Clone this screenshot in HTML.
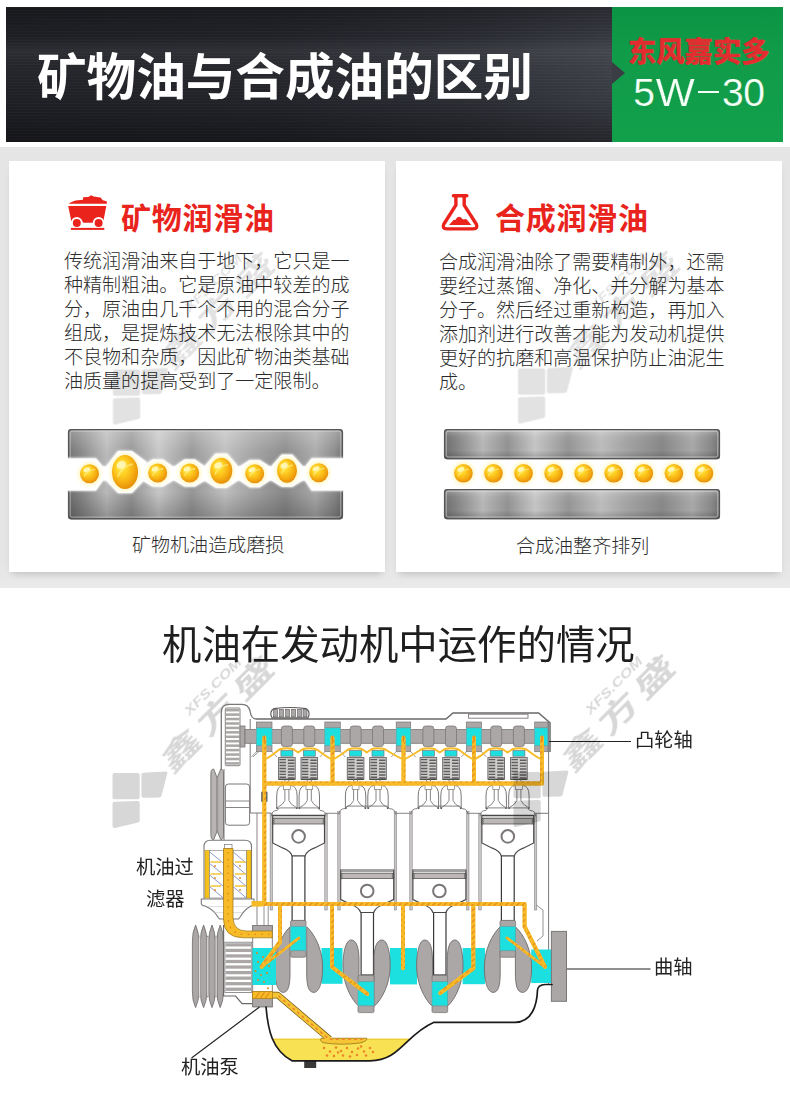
<!DOCTYPE html>
<html lang="zh-CN">
<head>
<meta charset="utf-8">
<title>矿物油与合成油的区别 - 东风嘉实多 5W-30</title>
<style>
html,body{margin:0;padding:0;background:#fff;}
body{font-family:"Liberation Sans",sans-serif;}
#page{position:relative;width:790px;height:1094px;overflow:hidden;background:#fff;}
.t{position:absolute;display:block;overflow:visible;}
.t text,.cjk{font-family:"Liberation Sans","Noto Sans CJK SC",sans-serif;}
.abs{position:absolute;display:block;}
/* header banner */
#banner{position:absolute;left:6px;top:7px;width:777px;height:134.5px;
  background:
   repeating-linear-gradient(180deg,rgba(255,255,255,.018) 0,rgba(255,255,255,.018) 1px,rgba(0,0,0,.025) 1px,rgba(0,0,0,.025) 3px),
   linear-gradient(180deg,rgba(0,0,0,.3) 0%,rgba(0,0,0,.08) 22%,rgba(255,255,255,.055) 33%,rgba(255,255,255,.02) 45%,rgba(0,0,0,.05) 70%,rgba(0,0,0,.38) 100%),
   linear-gradient(90deg,#212228 0%,#24262c 35%,#2e3037 60%,#3c3e46 78%);}
#badge{position:absolute;left:612px;top:7px;width:171px;height:134.5px;background:linear-gradient(180deg,#0b9443 0%,#109b48 30%,#12a04b 100%);}
#badge:before{content:"";position:absolute;left:0;top:55px;border-left:13px solid #3b3d45;border-top:11px solid transparent;border-bottom:11px solid transparent;}
#grade{position:absolute;left:633.2px;top:70.5px;width:150px;height:44px;line-height:44px;color:#f4fff6;font-size:39px;letter-spacing:1.5px;white-space:nowrap;-webkit-text-stroke:.2px #10994a;}
#grade i{font-size:0;overflow:hidden;display:inline-block;width:21.4px;height:2.4px;background:#f4fff6;vertical-align:12.5px;margin:0 2.4px 0 1.4px;}
#grade b{font-weight:normal;letter-spacing:-.3px;}
#grade u{text-decoration:none;display:inline-block;transform:scaleX(1.06);transform-origin:50% 50%;margin:0 1px;}
.brand{stroke:#e32c2f;stroke-width:.74px;stroke-linejoin:round;}
h1,h2,p,figure,figcaption{margin:0;padding:0;font-size:0;line-height:0;font-weight:normal;}
/* compare band */
#band{position:absolute;left:0;top:147px;width:790px;height:441px;background:linear-gradient(180deg,#e5e5e5 0%,#e5e5e5 94%,#eaeaea 100%);}
.card{position:absolute;top:14px;height:411px;background:#fff;box-shadow:0 5px 7px -3px rgba(0,0,0,.17);}
#cardL{left:9px;width:376px;}
#cardR{left:396px;width:386px;}
</style>
</head>
<body>
<main id="page">
 <header>
  <div id="banner"></div>
  <div id="badge"></div>
  <h1><svg class="t " role="img" aria-label="矿物油与合成油的区别" style="left:33.4px;top:45.88px" width="504" height="64" viewBox="0 0 504 64" fill="#fff"><title>矿物油与合成油的区别</title><text x="4" y="49.12" font-size="49.6" font-weight="bold">矿物油与合成油的区别</text></svg></h1>
  <svg class="t brand" role="img" aria-label="东风嘉实多" style="left:624.3px;top:32.715px" width="150" height="38" viewBox="0 0 150 38" fill="#e32c2f"><title>东风嘉实多</title><text x="4" y="28.885" font-size="28.3" font-weight="bold">东风嘉实多</text></svg>
  <div id="grade" role="text" aria-label="5W-30">5<u>W</u><i>–</i><b>30</b></div>
 </header>
 <section id="band" aria-label="矿物油与合成油对比">
  <article id="cardL" class="card">
   <h2><svg class="abs" role="img" aria-label="矿车图标" style="left:51px;top:27px" width="56" height="48" viewBox="60 188 56 48"><title>矿车图标</title>
<path fill="#ea231c" d="M68.6 203.7 L71 202.2 L75.5 200.6 L83 199.8 L83.1 197.3 L88.4 197.1 L91 195.2 L93.7 196.4 L97 197 L100.5 197.5 L102.8 200.2 L106.6 201.3 L107.1 203.7 Z"/>
<path fill="#ea231c" d="M68.2 206 H106.3 L103.3 221.5 H94.5 L93 222.7 H83.5 L82 221.5 H71.4 Z"/>
<circle cx="76.8" cy="223" r="5.9" fill="#fff"/><circle cx="98.6" cy="223" r="5.9" fill="#fff"/>
<circle cx="76.8" cy="223" r="4" fill="#ea231c"/><circle cx="98.6" cy="223" r="4" fill="#ea231c"/>
<rect x="70.9" y="227.9" width="33.4" height="2" fill="#ea231c"/>
</svg><svg class="t " role="img" aria-label="矿物润滑油" style="left:108px;top:37px" width="162" height="40" viewBox="0 0 162 40" fill="#e9241d"><title>矿物润滑油</title><text x="4" y="30.5" font-size="30" font-weight="bold" letter-spacing="0.75">矿物润滑油</text></svg></h2>
   <p><svg class="t " role="img" aria-label="传统润滑油来自于地下，它只是一种精制粗油。它是原油中较差的成分，原油由几千个不用的混合分子组成，是提炼技术无法根除其中的不良物和杂质，因此矿物油类基础油质量的提高受到了一定限制。" style="left:51px;top:87.102px" width="294" height="147" viewBox="0 0 294 147" fill="#2b2b2b"><title>传统润滑油来自于地下，它只是一种精制粗油。它是原油中较差的成分，原油由几千个不用的混合分子组成，是提炼技术无法根除其中的不良物和杂质，因此矿物油类基础油质量的提高受到了一定限制。</title><g font-size="19.05" font-weight="300"><text x="4" y="20.0975">传统润滑油来自于地下，它只是一</text><text x="4" y="44.0975">种精制粗油。它是原油中较差的成</text><text x="4" y="68.0975">分，原油由几千个不用的混合分子</text><text x="4" y="92.0975">组成，是提炼技术无法根除其中的</text><text x="4" y="116.097">不良物和杂质，因此矿物油类基础</text><text x="4" y="140.097">油质量的提高受到了一定限制。</text></g></svg></p>
   <figure><svg class="abs" role="img" aria-label="矿物机油：油分子大小不一，金属表面磨损" style="left:47px;top:259px" width="300" height="110" viewBox="56 420 300 110"><title>矿物机油造成磨损示意图</title>
<defs><linearGradient id="mg" x1="0" x2="1" y1="0" y2="0"><stop offset="0" stop-color="#6e6e6e"/><stop offset="0.05" stop-color="#868686"/><stop offset="0.14" stop-color="#b8b8b8"/><stop offset="0.23" stop-color="#939393"/><stop offset="0.33" stop-color="#c6c6c6"/><stop offset="0.45" stop-color="#969696"/><stop offset="0.57" stop-color="#bebebe"/><stop offset="0.67" stop-color="#a2a2a2"/><stop offset="0.79" stop-color="#888888"/><stop offset="0.9" stop-color="#a9a9a9"/><stop offset="0.97" stop-color="#888888"/><stop offset="1" stop-color="#707070"/></linearGradient>
<linearGradient id="mv" x1="0" x2="0" y1="0" y2="1"><stop offset="0" stop-color="#fff" stop-opacity=".28"/><stop offset=".25" stop-color="#fff" stop-opacity=".05"/><stop offset=".7" stop-color="#000" stop-opacity="0"/><stop offset="1" stop-color="#000" stop-opacity=".22"/></linearGradient>
<radialGradient id="dg" cx=".45" cy=".42" r=".62" fx=".32" fy=".3"><stop offset="0" stop-color="#fff06a"/><stop offset=".35" stop-color="#ffd426"/><stop offset=".7" stop-color="#f6ae12"/><stop offset="1" stop-color="#e2880a"/></radialGradient>
<filter id="bl" x="-10%" y="-30%" width="120%" height="160%"><feGaussianBlur stdDeviation=".8"/></filter>
<filter id="gl" x="-30%" y="-30%" width="160%" height="160%"><feGaussianBlur stdDeviation="1.6"/></filter>
</defs>
<clipPath id="cpl"><rect x="68" y="429" width="275" height="90.29999999999995" rx="3"/></clipPath>
<rect x="68" y="429" width="275" height="90.29999999999995" rx="3" fill="url(#mg)"/>
<rect x="68" y="429" width="275" height="90.29999999999995" rx="3" fill="url(#mv)"/>
<rect x="68.6" y="429.6" width="273.8" height="89.09999999999995" rx="3" fill="none" stroke="#565656" stroke-width="1.4"/>
<rect x="70.2" y="431.2" width="270.6" height="85.89999999999995" rx="2" fill="none" stroke="#dcdcdc" stroke-width=".8" opacity=".7"/>
<g clip-path="url(#cpl)"><path d="M65 459 L95.5 459 L102.5 467.2 L106.4 467.2 L118.5 451.6 L131.5 451.6 L146 462.5 L142.6 467.2 L152.95 460.1 L162.45 460.1 L172.8 467.2 L174.6 467.2 L184.95 460.1 L194.45 460.1 L204.8 467.2 L204.7 467.2 L215.8 454.3 L226.8 454.3 L237.9 467.2 L239.6 467.2 L249.95 460.8 L259.45 460.8 L269.8 467.2 L271.4 467.2 L282 455.3 L292 455.3 L302.6 467.2 L305.5 467.2 L312 459 L346 459 L346 489.8 L312 489.8 L305.5 479.8 L302.6 479.8 L292 486.1 L282 486.1 L271.4 479.8 L269.8 479.8 L259.45 486.6 L249.95 486.6 L239.6 479.8 L237.9 479.8 L226.8 487.1 L215.8 487.1 L204.7 479.8 L204.8 479.8 L194.45 485.9 L184.95 485.9 L174.6 479.8 L172.8 479.8 L162.45 485.9 L152.95 485.9 L142.6 479.8 L143.6 479.8 L131.5 492.4 L118.5 492.4 L106.4 479.8 L102.5 479.8 L95.5 489.8 L65 489.8 Z" fill="#fff" stroke="#f4f4f4" stroke-width="2.4" stroke-linejoin="round" filter="url(#bl)"/></g>
<path d="M65 459 L95.5 459 L102.5 467.2 L106.4 467.2 L118.5 451.6 L131.5 451.6 L146 462.5 L142.6 467.2 L152.95 460.1 L162.45 460.1 L172.8 467.2 L174.6 467.2 L184.95 460.1 L194.45 460.1 L204.8 467.2 L204.7 467.2 L215.8 454.3 L226.8 454.3 L237.9 467.2 L239.6 467.2 L249.95 460.8 L259.45 460.8 L269.8 467.2 L271.4 467.2 L282 455.3 L292 455.3 L302.6 467.2 L305.5 467.2 L312 459 L346 459 L346 489.8 L312 489.8 L305.5 479.8 L302.6 479.8 L292 486.1 L282 486.1 L271.4 479.8 L269.8 479.8 L259.45 486.6 L249.95 486.6 L239.6 479.8 L237.9 479.8 L226.8 487.1 L215.8 487.1 L204.7 479.8 L204.8 479.8 L194.45 485.9 L184.95 485.9 L174.6 479.8 L172.8 479.8 L162.45 485.9 L152.95 485.9 L142.6 479.8 L143.6 479.8 L131.5 492.4 L118.5 492.4 L106.4 479.8 L102.5 479.8 L95.5 489.8 L65 489.8 Z" fill="#fff" stroke="#fff" stroke-width="1.2" stroke-linejoin="round"/>
<ellipse cx="89.5" cy="473.7" rx="11.7" ry="11.7" fill="#fff8c8" opacity=".9" filter="url(#gl)"/><ellipse cx="89.5" cy="473.7" rx="9.5" ry="9.5" fill="url(#dg)"/><path d="M84.275 476.075 Q87.6 470.375 94.725 469.425" fill="none" stroke="#fff6a0" stroke-width="1.33" opacity=".55" stroke-linecap="round"/><ellipse cx="86.84" cy="469.71" rx="3.61" ry="2.09" fill="#fffbd0" opacity=".75" transform="rotate(-25 86.84 469.71)"/><ellipse cx="125" cy="472" rx="15.2" ry="19.2" fill="#fff8c8" opacity=".9" filter="url(#gl)"/><ellipse cx="125" cy="472" rx="13" ry="17" fill="url(#dg)"/><path d="M117.85 476.25 Q122.4 466.05 132.15 464.35" fill="none" stroke="#fff6a0" stroke-width="1.82" opacity=".55" stroke-linecap="round"/><ellipse cx="121.36" cy="464.86" rx="4.94" ry="3.74" fill="#fffbd0" opacity=".75" transform="rotate(-25 121.36 464.86)"/><ellipse cx="157.7" cy="473" rx="11.7" ry="11.7" fill="#fff8c8" opacity=".9" filter="url(#gl)"/><ellipse cx="157.7" cy="473" rx="9.5" ry="9.5" fill="url(#dg)"/><path d="M152.475 475.375 Q155.8 469.675 162.925 468.725" fill="none" stroke="#fff6a0" stroke-width="1.33" opacity=".55" stroke-linecap="round"/><ellipse cx="155.04" cy="469.01" rx="3.61" ry="2.09" fill="#fffbd0" opacity=".75" transform="rotate(-25 155.04 469.01)"/><ellipse cx="189.7" cy="473" rx="11.7" ry="11.7" fill="#fff8c8" opacity=".9" filter="url(#gl)"/><ellipse cx="189.7" cy="473" rx="9.5" ry="9.5" fill="url(#dg)"/><path d="M184.475 475.375 Q187.8 469.675 194.925 468.725" fill="none" stroke="#fff6a0" stroke-width="1.33" opacity=".55" stroke-linecap="round"/><ellipse cx="187.04" cy="469.01" rx="3.61" ry="2.09" fill="#fffbd0" opacity=".75" transform="rotate(-25 187.04 469.01)"/><ellipse cx="221.3" cy="470.7" rx="13.2" ry="15.2" fill="#fff8c8" opacity=".9" filter="url(#gl)"/><ellipse cx="221.3" cy="470.7" rx="11" ry="13" fill="url(#dg)"/><path d="M215.25 473.95 Q219.1 466.15 227.35 464.85" fill="none" stroke="#fff6a0" stroke-width="1.54" opacity=".55" stroke-linecap="round"/><ellipse cx="218.22" cy="465.24" rx="4.18" ry="2.86" fill="#fffbd0" opacity=".75" transform="rotate(-25 218.22 465.24)"/><ellipse cx="254.7" cy="473.7" rx="11.7" ry="11.7" fill="#fff8c8" opacity=".9" filter="url(#gl)"/><ellipse cx="254.7" cy="473.7" rx="9.5" ry="9.5" fill="url(#dg)"/><path d="M249.475 476.075 Q252.8 470.375 259.925 469.425" fill="none" stroke="#fff6a0" stroke-width="1.33" opacity=".55" stroke-linecap="round"/><ellipse cx="252.04" cy="469.71" rx="3.61" ry="2.09" fill="#fffbd0" opacity=".75" transform="rotate(-25 252.04 469.71)"/><ellipse cx="287" cy="470.7" rx="12.2" ry="14.2" fill="#fff8c8" opacity=".9" filter="url(#gl)"/><ellipse cx="287" cy="470.7" rx="10" ry="12" fill="url(#dg)"/><path d="M281.5 473.7 Q285 466.5 292.5 465.3" fill="none" stroke="#fff6a0" stroke-width="1.4" opacity=".55" stroke-linecap="round"/><ellipse cx="284.2" cy="465.66" rx="3.8" ry="2.64" fill="#fffbd0" opacity=".75" transform="rotate(-25 284.2 465.66)"/><ellipse cx="318.8" cy="472.7" rx="11.7" ry="11.7" fill="#fff8c8" opacity=".9" filter="url(#gl)"/><ellipse cx="318.8" cy="472.7" rx="9.5" ry="9.5" fill="url(#dg)"/><path d="M313.575 475.075 Q316.9 469.375 324.025 468.425" fill="none" stroke="#fff6a0" stroke-width="1.33" opacity=".55" stroke-linecap="round"/><ellipse cx="316.14" cy="468.71" rx="3.61" ry="2.09" fill="#fffbd0" opacity=".75" transform="rotate(-25 316.14 468.71)"/>
</svg><figcaption><svg class="t " role="img" aria-label="矿物机油造成磨损" style="left:119px;top:370.903px" width="160" height="27" viewBox="0 0 160 27" fill="#2b2b2b"><title>矿物机油造成磨损</title><text x="4" y="20.0975" font-size="19.05" font-weight="300">矿物机油造成磨损</text></svg></figcaption></figure>
  </article>
  <article id="cardR" class="card">
   <h2><svg class="abs" role="img" aria-label="烧瓶图标" style="left:40px;top:27px" width="50" height="48" viewBox="436 188 50 48"><title>烧瓶图标</title>
<g fill="none" stroke="#ea231c" stroke-width="3.4" stroke-linecap="round" stroke-linejoin="round">
<path d="M453.4 195.8 H466.8"/>
<path d="M455.9 197 V205.2 L443.9 224 Q441.6 228.9 447 228.9 H473.1 Q478.5 228.9 476.2 224 L464.2 205.2 V197"/>
</g>
<path fill="#ea231c" d="M449 224.9 L453.6 220 L455.6 219.8 Q456.6 217.4 458.8 216.8 Q461.2 216.8 462.2 219 L464 219.6 Q465.6 218.4 467 219.8 L471.3 224.9 Z"/>
</svg><svg class="t " role="img" aria-label="合成润滑油" style="left:95px;top:37px" width="162" height="40" viewBox="0 0 162 40" fill="#e9241d"><title>合成润滑油</title><text x="4" y="30.5" font-size="30" font-weight="bold" letter-spacing="0.75">合成润滑油</text></svg></h2>
   <p><svg class="t " role="img" aria-label="合成润滑油除了需要精制外，还需要经过蒸馏、净化、并分解为基本分子。然后经过重新构造，再加入添加剂进行改善才能为发动机提供更好的抗磨和高温保护防止油泥生成。" style="left:39.2px;top:88.102px" width="294" height="147" viewBox="0 0 294 147" fill="#2b2b2b"><title>合成润滑油除了需要精制外，还需要经过蒸馏、净化、并分解为基本分子。然后经过重新构造，再加入添加剂进行改善才能为发动机提供更好的抗磨和高温保护防止油泥生成。</title><g font-size="19.05" font-weight="300"><text x="4" y="20.0975">合成润滑油除了需要精制外，还需</text><text x="4" y="44.0975">要经过蒸馏、净化、并分解为基本</text><text x="4" y="68.0975">分子。然后经过重新构造，再加入</text><text x="4" y="92.0975">添加剂进行改善才能为发动机提供</text><text x="4" y="116.097">更好的抗磨和高温保护防止油泥生</text><text x="4" y="140.097">成。</text></g></svg></p>
   <figure><svg class="abs" role="img" aria-label="合成油：油分子大小一致，整齐排列" style="left:36px;top:259px" width="300" height="110" viewBox="432 420 300 110"><title>合成油整齐排列示意图</title>
<defs><linearGradient id="mg2" x1="0" x2="1" y1="0" y2="0"><stop offset="0" stop-color="#6e6e6e"/><stop offset="0.05" stop-color="#868686"/><stop offset="0.14" stop-color="#b8b8b8"/><stop offset="0.23" stop-color="#939393"/><stop offset="0.33" stop-color="#c6c6c6"/><stop offset="0.45" stop-color="#969696"/><stop offset="0.57" stop-color="#bebebe"/><stop offset="0.67" stop-color="#a2a2a2"/><stop offset="0.79" stop-color="#888888"/><stop offset="0.9" stop-color="#a9a9a9"/><stop offset="0.97" stop-color="#888888"/><stop offset="1" stop-color="#707070"/></linearGradient>
<linearGradient id="mv2" x1="0" x2="0" y1="0" y2="1"><stop offset="0" stop-color="#fff" stop-opacity=".28"/><stop offset=".25" stop-color="#fff" stop-opacity=".05"/><stop offset=".7" stop-color="#000" stop-opacity="0"/><stop offset="1" stop-color="#000" stop-opacity=".22"/></linearGradient>
<radialGradient id="dg2" cx=".45" cy=".42" r=".62" fx=".32" fy=".3"><stop offset="0" stop-color="#fff06a"/><stop offset=".35" stop-color="#ffd426"/><stop offset=".7" stop-color="#f6ae12"/><stop offset="1" stop-color="#e2880a"/></radialGradient>
<filter id="bl2" x="-10%" y="-30%" width="120%" height="160%"><feGaussianBlur stdDeviation=".8"/></filter>
<filter id="gl2" x="-30%" y="-30%" width="160%" height="160%"><feGaussianBlur stdDeviation="1.6"/></filter>
</defs>
<rect x="444" y="429" width="276" height="30.19999999999999" rx="3" fill="url(#mg2)"/><rect x="444" y="429" width="276" height="30.19999999999999" rx="3" fill="url(#mv2)"/><rect x="444.6" y="429.6" width="274.8" height="28.99999999999999" rx="3" fill="none" stroke="#565656" stroke-width="1.4"/><rect x="446.2" y="431.2" width="271.6" height="25.79999999999999" rx="2" fill="none" stroke="#e2e2e2" stroke-width=".8" opacity=".75"/><rect x="444" y="489" width="276" height="30.200000000000045" rx="3" fill="url(#mg2)"/><rect x="444" y="489" width="276" height="30.200000000000045" rx="3" fill="url(#mv2)"/><rect x="444.6" y="489.6" width="274.8" height="29.000000000000046" rx="3" fill="none" stroke="#565656" stroke-width="1.4"/><rect x="446.2" y="491.2" width="271.6" height="25.800000000000047" rx="2" fill="none" stroke="#e2e2e2" stroke-width=".8" opacity=".75"/>
<ellipse cx="463.4" cy="473.3" rx="11.5" ry="11.5" fill="#fff8c8" opacity=".9" filter="url(#gl2)"/><ellipse cx="463.4" cy="473.3" rx="9.3" ry="9.3" fill="url(#dg2)"/><path d="M458.285 475.625 Q461.54 470.045 468.515 469.115" fill="none" stroke="#fff6a0" stroke-width="1.302" opacity=".55" stroke-linecap="round"/><ellipse cx="460.796" cy="469.394" rx="3.534" ry="2.046" fill="#fffbd0" opacity=".75" transform="rotate(-25 460.796 469.394)"/><ellipse cx="493.47" cy="473.3" rx="11.5" ry="11.5" fill="#fff8c8" opacity=".9" filter="url(#gl2)"/><ellipse cx="493.47" cy="473.3" rx="9.3" ry="9.3" fill="url(#dg2)"/><path d="M488.355 475.625 Q491.61 470.045 498.585 469.115" fill="none" stroke="#fff6a0" stroke-width="1.302" opacity=".55" stroke-linecap="round"/><ellipse cx="490.866" cy="469.394" rx="3.534" ry="2.046" fill="#fffbd0" opacity=".75" transform="rotate(-25 490.866 469.394)"/><ellipse cx="523.54" cy="473.3" rx="11.5" ry="11.5" fill="#fff8c8" opacity=".9" filter="url(#gl2)"/><ellipse cx="523.54" cy="473.3" rx="9.3" ry="9.3" fill="url(#dg2)"/><path d="M518.425 475.625 Q521.68 470.045 528.655 469.115" fill="none" stroke="#fff6a0" stroke-width="1.302" opacity=".55" stroke-linecap="round"/><ellipse cx="520.936" cy="469.394" rx="3.534" ry="2.046" fill="#fffbd0" opacity=".75" transform="rotate(-25 520.936 469.394)"/><ellipse cx="553.61" cy="473.3" rx="11.5" ry="11.5" fill="#fff8c8" opacity=".9" filter="url(#gl2)"/><ellipse cx="553.61" cy="473.3" rx="9.3" ry="9.3" fill="url(#dg2)"/><path d="M548.495 475.625 Q551.75 470.045 558.725 469.115" fill="none" stroke="#fff6a0" stroke-width="1.302" opacity=".55" stroke-linecap="round"/><ellipse cx="551.006" cy="469.394" rx="3.534" ry="2.046" fill="#fffbd0" opacity=".75" transform="rotate(-25 551.006 469.394)"/><ellipse cx="583.68" cy="473.3" rx="11.5" ry="11.5" fill="#fff8c8" opacity=".9" filter="url(#gl2)"/><ellipse cx="583.68" cy="473.3" rx="9.3" ry="9.3" fill="url(#dg2)"/><path d="M578.565 475.625 Q581.82 470.045 588.795 469.115" fill="none" stroke="#fff6a0" stroke-width="1.302" opacity=".55" stroke-linecap="round"/><ellipse cx="581.076" cy="469.394" rx="3.534" ry="2.046" fill="#fffbd0" opacity=".75" transform="rotate(-25 581.076 469.394)"/><ellipse cx="613.75" cy="473.3" rx="11.5" ry="11.5" fill="#fff8c8" opacity=".9" filter="url(#gl2)"/><ellipse cx="613.75" cy="473.3" rx="9.3" ry="9.3" fill="url(#dg2)"/><path d="M608.635 475.625 Q611.89 470.045 618.865 469.115" fill="none" stroke="#fff6a0" stroke-width="1.302" opacity=".55" stroke-linecap="round"/><ellipse cx="611.146" cy="469.394" rx="3.534" ry="2.046" fill="#fffbd0" opacity=".75" transform="rotate(-25 611.146 469.394)"/><ellipse cx="643.82" cy="473.3" rx="11.5" ry="11.5" fill="#fff8c8" opacity=".9" filter="url(#gl2)"/><ellipse cx="643.82" cy="473.3" rx="9.3" ry="9.3" fill="url(#dg2)"/><path d="M638.705 475.625 Q641.96 470.045 648.935 469.115" fill="none" stroke="#fff6a0" stroke-width="1.302" opacity=".55" stroke-linecap="round"/><ellipse cx="641.216" cy="469.394" rx="3.534" ry="2.046" fill="#fffbd0" opacity=".75" transform="rotate(-25 641.216 469.394)"/><ellipse cx="673.89" cy="473.3" rx="11.5" ry="11.5" fill="#fff8c8" opacity=".9" filter="url(#gl2)"/><ellipse cx="673.89" cy="473.3" rx="9.3" ry="9.3" fill="url(#dg2)"/><path d="M668.775 475.625 Q672.03 470.045 679.005 469.115" fill="none" stroke="#fff6a0" stroke-width="1.302" opacity=".55" stroke-linecap="round"/><ellipse cx="671.286" cy="469.394" rx="3.534" ry="2.046" fill="#fffbd0" opacity=".75" transform="rotate(-25 671.286 469.394)"/><ellipse cx="703.96" cy="473.3" rx="11.5" ry="11.5" fill="#fff8c8" opacity=".9" filter="url(#gl2)"/><ellipse cx="703.96" cy="473.3" rx="9.3" ry="9.3" fill="url(#dg2)"/><path d="M698.845 475.625 Q702.1 470.045 709.075 469.115" fill="none" stroke="#fff6a0" stroke-width="1.302" opacity=".55" stroke-linecap="round"/><ellipse cx="701.356" cy="469.394" rx="3.534" ry="2.046" fill="#fffbd0" opacity=".75" transform="rotate(-25 701.356 469.394)"/>
</svg><figcaption><svg class="t " role="img" aria-label="合成油整齐排列" style="left:116px;top:371.903px" width="141" height="27" viewBox="0 0 141 27" fill="#2b2b2b"><title>合成油整齐排列</title><text x="4" y="20.0975" font-size="19.05" font-weight="300">合成油整齐排列</text></svg></figcaption></figure>
  </article>
 </section>
 <section aria-label="机油在发动机中运作的情况">
 <svg class="abs" aria-hidden="true" style="left:0;top:0;pointer-events:none" width="790" height="1094" viewBox="0 0 790 1094"><use href="#wmk" x="0" y="0" fill="#000" opacity=".16"/></svg>
 <h2><svg class="t " role="img" aria-label="机油在发动机中运作的情况" style="left:157.6px;top:619.97px" width="481" height="51" viewBox="0 0 481 51" fill="#1e1e1e"><title>机油在发动机中运作的情况</title><text x="4" y="39.43" font-size="39.4">机油在发动机中运作的情况</text></svg></h2>
 <figure>
 <svg class="abs" role="img" aria-label="发动机润滑系统剖面图：机油泵从油底壳吸油，经机油过滤器送往曲轴、凸轮轴等部位" style="left:180px;top:695px" width="480" height="385" viewBox="180 695 480 385"><title>发动机润滑系统剖面图</title><defs><pattern id="oilp" width="5.6" height="5.6" patternUnits="userSpaceOnUse"><rect width="5.6" height="5.6" fill="#f7bb28"/><path d="M1.4 4 L4 1.4" stroke="#e2861c" stroke-width="1.15" stroke-linecap="round"/></pattern></defs><path d="M221.3 769 V712.5 Q221.3 704.4 229.5 704.4 H242 Q248.5 704.4 250 711 Q251.2 719 256 719 H446 L453 713 H538.6 L550 722.8 V984.5 H545 Q538 985 537.5 990 C537 1005 532 1022.3 515 1022.3 H434 C405 1035 400 1060.8 370 1060.8 H292 C272 1050 268 1030 266 1007 H253 V1003.6 H242 L235.6 996 H223.6 V925 H252 V905 H224 V769 Z" fill="#fff"/><path d="M221.3 769 V712.5 Q221.3 704.4 229.5 704.4 H242 Q248.5 704.4 250 711 Q251.2 719 256 719" fill="none" stroke="#7b7777" stroke-width="1.3"/><path d="M256 719 H446 L453 713 H538.6 L550 722.8 V752" fill="none" stroke="#6b6868" stroke-width="1.5"/><rect x="468.6" y="714.2" width="59.4" height="4" fill="#fff" stroke="#7b7777" stroke-width="0.9"/><path d="M548.6 722 V984" fill="none" stroke="#7b7777" stroke-width="1"/><path d="M535 813.3 H548.6" fill="none" stroke="#7b7777" stroke-width="1"/><path d="M250.2 719 V813 H271" fill="none" stroke="#7b7777" stroke-width="1"/><path d="M253 757 L258.5 751.7" fill="none" stroke="#7b7777" stroke-width="0.8"/><path d="M257 813 V925" fill="none" stroke="#7b7777" stroke-width="0.9"/><path d="M224 769 V841" fill="none" stroke="#7b7777" stroke-width="1"/><g><path d="M272 717.8 Q268.6 712 274 708.6 Q290 706.4 306 708.6 Q311 712 308 717.8 Z" fill="#fff" stroke="#5f5c5c" stroke-width="1.2"/><rect x="273.6" y="709.3" width="4" height="7.5" fill="#aba7a7" stroke="#5f5c5c" stroke-width="0.6"/><rect x="279.6" y="709.3" width="4" height="7.5" fill="#aba7a7" stroke="#5f5c5c" stroke-width="0.6"/><rect x="285.6" y="709.3" width="4" height="7.5" fill="#aba7a7" stroke="#5f5c5c" stroke-width="0.6"/><rect x="291.6" y="709.3" width="4" height="7.5" fill="#aba7a7" stroke="#5f5c5c" stroke-width="0.6"/><rect x="297.6" y="709.3" width="4" height="7.5" fill="#aba7a7" stroke="#5f5c5c" stroke-width="0.6"/><rect x="303" y="709.3" width="4" height="7.5" fill="#aba7a7" stroke="#5f5c5c" stroke-width="0.6"/></g><rect x="225.3" y="708" width="14.7" height="57.7" fill="#fff" stroke="#7b7777" stroke-width="0.9" rx="1"/><rect x="225.8" y="708.9" width="13.7" height="2.53846" fill="#aba7a7"/><rect x="225.8" y="713.338" width="13.7" height="2.53846" fill="#aba7a7"/><rect x="225.8" y="717.777" width="13.7" height="2.53846" fill="#aba7a7"/><rect x="225.8" y="722.215" width="13.7" height="2.53846" fill="#aba7a7"/><rect x="225.8" y="726.654" width="13.7" height="2.53846" fill="#aba7a7"/><rect x="225.8" y="731.092" width="13.7" height="2.53846" fill="#aba7a7"/><rect x="225.8" y="735.531" width="13.7" height="2.53846" fill="#aba7a7"/><rect x="225.8" y="739.969" width="13.7" height="2.53846" fill="#aba7a7"/><rect x="225.8" y="744.408" width="13.7" height="2.53846" fill="#aba7a7"/><rect x="225.8" y="748.846" width="13.7" height="2.53846" fill="#aba7a7"/><rect x="225.8" y="753.285" width="13.7" height="2.53846" fill="#aba7a7"/><rect x="225.8" y="757.723" width="13.7" height="2.53846" fill="#aba7a7"/><rect x="225.8" y="762.162" width="13.7" height="2.53846" fill="#aba7a7"/><rect x="240" y="726" width="5" height="21" fill="#aba7a7" stroke="#7b7777" stroke-width="0.8"/><rect x="245" y="729.5" width="303.3" height="13.8" fill="#aba7a7" stroke="#7b7777" stroke-width="0.8"/><rect x="256.4" y="722" width="15.6" height="6" fill="#aba7a7" stroke="#7b7777" stroke-width="0.7"/><rect x="256.4" y="745.6" width="15.6" height="6.1" fill="#aba7a7" stroke="#7b7777" stroke-width="0.7"/><rect x="256.4" y="728" width="15.6" height="17.6" fill="#1cdfe0" stroke="#5fa9a9" stroke-width="0.6"/><rect x="324.8" y="722" width="15.5" height="6" fill="#aba7a7" stroke="#7b7777" stroke-width="0.7"/><rect x="324.8" y="745.6" width="15.5" height="6.1" fill="#aba7a7" stroke="#7b7777" stroke-width="0.7"/><rect x="324.8" y="728" width="15.5" height="17.6" fill="#1cdfe0" stroke="#5fa9a9" stroke-width="0.6"/><rect x="396.2" y="722" width="14.5" height="6" fill="#aba7a7" stroke="#7b7777" stroke-width="0.7"/><rect x="396.2" y="745.6" width="14.5" height="6.1" fill="#aba7a7" stroke="#7b7777" stroke-width="0.7"/><rect x="396.2" y="728" width="14.5" height="17.6" fill="#1cdfe0" stroke="#5fa9a9" stroke-width="0.6"/><rect x="466.3" y="722" width="15.2" height="6" fill="#aba7a7" stroke="#7b7777" stroke-width="0.7"/><rect x="466.3" y="745.6" width="15.2" height="6.1" fill="#aba7a7" stroke="#7b7777" stroke-width="0.7"/><rect x="466.3" y="728" width="15.2" height="17.6" fill="#1cdfe0" stroke="#5fa9a9" stroke-width="0.6"/><rect x="534.7" y="722" width="13.1" height="6" fill="#aba7a7" stroke="#7b7777" stroke-width="0.7"/><rect x="534.7" y="745.6" width="13.1" height="6.1" fill="#aba7a7" stroke="#7b7777" stroke-width="0.7"/><rect x="534.7" y="728" width="13.1" height="17.6" fill="#1cdfe0" stroke="#5fa9a9" stroke-width="0.6"/><rect x="281.4" y="726" width="11" height="20.6" fill="#aba7a7" stroke="#7b7777" stroke-width="0.8" rx="2.8"/><rect x="303.8" y="726" width="11" height="20.6" fill="#aba7a7" stroke="#7b7777" stroke-width="0.8" rx="2.8"/><rect x="350.1" y="726" width="11" height="20.6" fill="#aba7a7" stroke="#7b7777" stroke-width="0.8" rx="2.8"/><rect x="372.5" y="726" width="11" height="20.6" fill="#aba7a7" stroke="#7b7777" stroke-width="0.8" rx="2.8"/><rect x="422.9" y="726" width="11" height="20.6" fill="#aba7a7" stroke="#7b7777" stroke-width="0.8" rx="2.8"/><rect x="445.5" y="726" width="11" height="20.6" fill="#aba7a7" stroke="#7b7777" stroke-width="0.8" rx="2.8"/><rect x="490.7" y="726" width="11" height="20.6" fill="#aba7a7" stroke="#7b7777" stroke-width="0.8" rx="2.8"/><rect x="513.4" y="726" width="11" height="20.6" fill="#aba7a7" stroke="#7b7777" stroke-width="0.8" rx="2.8"/><path d="M256.4 751.7 L251.4 757 M272 751.7 L277 757" fill="none" stroke="#7b7777" stroke-width="0.7"/><path d="M324.8 751.7 L319.8 757 M340.3 751.7 L345.3 757" fill="none" stroke="#7b7777" stroke-width="0.7"/><path d="M396.2 751.7 L391.2 757 M410.7 751.7 L415.7 757" fill="none" stroke="#7b7777" stroke-width="0.7"/><path d="M466.3 751.7 L461.3 757 M481.5 751.7 L486.5 757" fill="none" stroke="#7b7777" stroke-width="0.7"/><rect x="280.9" y="750.6" width="12" height="5.6" fill="#1cdfe0" stroke="#7b7777" stroke-width="0.7"/><rect x="278.6" y="757.6" width="16.6" height="21.6" fill="#cfcccc" stroke="#625f5f" stroke-width="0.9"/><path d="M279.5 759.6 H285.9 M287.9 760.2 H294.3" stroke="#5f5c5c" stroke-width="1.45" fill="none"/><path d="M279.5 762.55 H285.9 M287.9 763.15 H294.3" stroke="#5f5c5c" stroke-width="1.45" fill="none"/><path d="M279.5 765.5 H285.9 M287.9 766.1 H294.3" stroke="#5f5c5c" stroke-width="1.45" fill="none"/><path d="M279.5 768.45 H285.9 M287.9 769.05 H294.3" stroke="#5f5c5c" stroke-width="1.45" fill="none"/><path d="M279.5 771.4 H285.9 M287.9 772 H294.3" stroke="#5f5c5c" stroke-width="1.45" fill="none"/><path d="M279.5 774.35 H285.9 M287.9 774.95 H294.3" stroke="#5f5c5c" stroke-width="1.45" fill="none"/><path d="M279.5 777.3 H285.9 M287.9 777.9 H294.3" stroke="#5f5c5c" stroke-width="1.45" fill="none"/><path d="M278.6 779.4 H295.2" stroke="#4f4c4c" stroke-width="1.3"/><path d="M284.9 779.5 V800.5 M288.9 779.5 V800.5" fill="none" stroke="#7b7777" stroke-width="0.9"/><rect x="283.5" y="784.6" width="6.8" height="4.8" fill="#fff" stroke="#7b7777" stroke-width="0.7"/><path d="M276.7 808 V796 Q276.7 785.4 283.5 785.4 M290.3 785.4 Q297.1 785.4 297.1 796 V808" fill="none" stroke="#7b7777" stroke-width="1"/><path d="M284.9 800.5 Q283.5 804.5 277.3 807.6 M288.9 800.5 Q290.3 804.5 296.5 807.6" fill="none" stroke="#7b7777" stroke-width="0.9"/><circle cx="277.1" cy="808.2" r=".9" fill="#555"/><circle cx="296.7" cy="808.2" r=".9" fill="#555"/><rect x="303.3" y="750.6" width="12" height="5.6" fill="#1cdfe0" stroke="#7b7777" stroke-width="0.7"/><rect x="301" y="757.6" width="16.6" height="21.6" fill="#cfcccc" stroke="#625f5f" stroke-width="0.9"/><path d="M301.9 759.6 H308.3 M310.3 760.2 H316.7" stroke="#5f5c5c" stroke-width="1.45" fill="none"/><path d="M301.9 762.55 H308.3 M310.3 763.15 H316.7" stroke="#5f5c5c" stroke-width="1.45" fill="none"/><path d="M301.9 765.5 H308.3 M310.3 766.1 H316.7" stroke="#5f5c5c" stroke-width="1.45" fill="none"/><path d="M301.9 768.45 H308.3 M310.3 769.05 H316.7" stroke="#5f5c5c" stroke-width="1.45" fill="none"/><path d="M301.9 771.4 H308.3 M310.3 772 H316.7" stroke="#5f5c5c" stroke-width="1.45" fill="none"/><path d="M301.9 774.35 H308.3 M310.3 774.95 H316.7" stroke="#5f5c5c" stroke-width="1.45" fill="none"/><path d="M301.9 777.3 H308.3 M310.3 777.9 H316.7" stroke="#5f5c5c" stroke-width="1.45" fill="none"/><path d="M301 779.4 H317.6" stroke="#4f4c4c" stroke-width="1.3"/><path d="M307.3 779.5 V800.5 M311.3 779.5 V800.5" fill="none" stroke="#7b7777" stroke-width="0.9"/><rect x="305.9" y="784.6" width="6.8" height="4.8" fill="#fff" stroke="#7b7777" stroke-width="0.7"/><path d="M299.1 808 V796 Q299.1 785.4 305.9 785.4 M312.7 785.4 Q319.5 785.4 319.5 796 V808" fill="none" stroke="#7b7777" stroke-width="1"/><path d="M307.3 800.5 Q305.9 804.5 299.7 807.6 M311.3 800.5 Q312.7 804.5 318.9 807.6" fill="none" stroke="#7b7777" stroke-width="0.9"/><circle cx="299.5" cy="808.2" r=".9" fill="#555"/><circle cx="319.1" cy="808.2" r=".9" fill="#555"/><rect x="349.6" y="750.6" width="12" height="5.6" fill="#1cdfe0" stroke="#7b7777" stroke-width="0.7"/><rect x="347.3" y="757.6" width="16.6" height="21.6" fill="#cfcccc" stroke="#625f5f" stroke-width="0.9"/><path d="M348.2 759.6 H354.6 M356.6 760.2 H363" stroke="#5f5c5c" stroke-width="1.45" fill="none"/><path d="M348.2 762.55 H354.6 M356.6 763.15 H363" stroke="#5f5c5c" stroke-width="1.45" fill="none"/><path d="M348.2 765.5 H354.6 M356.6 766.1 H363" stroke="#5f5c5c" stroke-width="1.45" fill="none"/><path d="M348.2 768.45 H354.6 M356.6 769.05 H363" stroke="#5f5c5c" stroke-width="1.45" fill="none"/><path d="M348.2 771.4 H354.6 M356.6 772 H363" stroke="#5f5c5c" stroke-width="1.45" fill="none"/><path d="M348.2 774.35 H354.6 M356.6 774.95 H363" stroke="#5f5c5c" stroke-width="1.45" fill="none"/><path d="M348.2 777.3 H354.6 M356.6 777.9 H363" stroke="#5f5c5c" stroke-width="1.45" fill="none"/><path d="M347.3 779.4 H363.9" stroke="#4f4c4c" stroke-width="1.3"/><path d="M353.6 779.5 V800.5 M357.6 779.5 V800.5" fill="none" stroke="#7b7777" stroke-width="0.9"/><rect x="352.2" y="784.6" width="6.8" height="4.8" fill="#fff" stroke="#7b7777" stroke-width="0.7"/><path d="M345.4 808 V796 Q345.4 785.4 352.2 785.4 M359 785.4 Q365.8 785.4 365.8 796 V808" fill="none" stroke="#7b7777" stroke-width="1"/><path d="M353.6 800.5 Q352.2 804.5 346 807.6 M357.6 800.5 Q359 804.5 365.2 807.6" fill="none" stroke="#7b7777" stroke-width="0.9"/><circle cx="345.8" cy="808.2" r=".9" fill="#555"/><circle cx="365.4" cy="808.2" r=".9" fill="#555"/><rect x="372" y="750.6" width="12" height="5.6" fill="#1cdfe0" stroke="#7b7777" stroke-width="0.7"/><rect x="369.7" y="757.6" width="16.6" height="21.6" fill="#cfcccc" stroke="#625f5f" stroke-width="0.9"/><path d="M370.6 759.6 H377 M379 760.2 H385.4" stroke="#5f5c5c" stroke-width="1.45" fill="none"/><path d="M370.6 762.55 H377 M379 763.15 H385.4" stroke="#5f5c5c" stroke-width="1.45" fill="none"/><path d="M370.6 765.5 H377 M379 766.1 H385.4" stroke="#5f5c5c" stroke-width="1.45" fill="none"/><path d="M370.6 768.45 H377 M379 769.05 H385.4" stroke="#5f5c5c" stroke-width="1.45" fill="none"/><path d="M370.6 771.4 H377 M379 772 H385.4" stroke="#5f5c5c" stroke-width="1.45" fill="none"/><path d="M370.6 774.35 H377 M379 774.95 H385.4" stroke="#5f5c5c" stroke-width="1.45" fill="none"/><path d="M370.6 777.3 H377 M379 777.9 H385.4" stroke="#5f5c5c" stroke-width="1.45" fill="none"/><path d="M369.7 779.4 H386.3" stroke="#4f4c4c" stroke-width="1.3"/><path d="M376 779.5 V800.5 M380 779.5 V800.5" fill="none" stroke="#7b7777" stroke-width="0.9"/><rect x="374.6" y="784.6" width="6.8" height="4.8" fill="#fff" stroke="#7b7777" stroke-width="0.7"/><path d="M367.8 808 V796 Q367.8 785.4 374.6 785.4 M381.4 785.4 Q388.2 785.4 388.2 796 V808" fill="none" stroke="#7b7777" stroke-width="1"/><path d="M376 800.5 Q374.6 804.5 368.4 807.6 M380 800.5 Q381.4 804.5 387.6 807.6" fill="none" stroke="#7b7777" stroke-width="0.9"/><circle cx="368.2" cy="808.2" r=".9" fill="#555"/><circle cx="387.8" cy="808.2" r=".9" fill="#555"/><rect x="422.4" y="750.6" width="12" height="5.6" fill="#1cdfe0" stroke="#7b7777" stroke-width="0.7"/><rect x="420.1" y="757.6" width="16.6" height="21.6" fill="#cfcccc" stroke="#625f5f" stroke-width="0.9"/><path d="M421 759.6 H427.4 M429.4 760.2 H435.8" stroke="#5f5c5c" stroke-width="1.45" fill="none"/><path d="M421 762.55 H427.4 M429.4 763.15 H435.8" stroke="#5f5c5c" stroke-width="1.45" fill="none"/><path d="M421 765.5 H427.4 M429.4 766.1 H435.8" stroke="#5f5c5c" stroke-width="1.45" fill="none"/><path d="M421 768.45 H427.4 M429.4 769.05 H435.8" stroke="#5f5c5c" stroke-width="1.45" fill="none"/><path d="M421 771.4 H427.4 M429.4 772 H435.8" stroke="#5f5c5c" stroke-width="1.45" fill="none"/><path d="M421 774.35 H427.4 M429.4 774.95 H435.8" stroke="#5f5c5c" stroke-width="1.45" fill="none"/><path d="M421 777.3 H427.4 M429.4 777.9 H435.8" stroke="#5f5c5c" stroke-width="1.45" fill="none"/><path d="M420.1 779.4 H436.7" stroke="#4f4c4c" stroke-width="1.3"/><path d="M426.4 779.5 V800.5 M430.4 779.5 V800.5" fill="none" stroke="#7b7777" stroke-width="0.9"/><rect x="425" y="784.6" width="6.8" height="4.8" fill="#fff" stroke="#7b7777" stroke-width="0.7"/><path d="M418.2 808 V796 Q418.2 785.4 425 785.4 M431.8 785.4 Q438.6 785.4 438.6 796 V808" fill="none" stroke="#7b7777" stroke-width="1"/><path d="M426.4 800.5 Q425 804.5 418.8 807.6 M430.4 800.5 Q431.8 804.5 438 807.6" fill="none" stroke="#7b7777" stroke-width="0.9"/><circle cx="418.6" cy="808.2" r=".9" fill="#555"/><circle cx="438.2" cy="808.2" r=".9" fill="#555"/><rect x="445" y="750.6" width="12" height="5.6" fill="#1cdfe0" stroke="#7b7777" stroke-width="0.7"/><rect x="442.7" y="757.6" width="16.6" height="21.6" fill="#cfcccc" stroke="#625f5f" stroke-width="0.9"/><path d="M443.6 759.6 H450 M452 760.2 H458.4" stroke="#5f5c5c" stroke-width="1.45" fill="none"/><path d="M443.6 762.55 H450 M452 763.15 H458.4" stroke="#5f5c5c" stroke-width="1.45" fill="none"/><path d="M443.6 765.5 H450 M452 766.1 H458.4" stroke="#5f5c5c" stroke-width="1.45" fill="none"/><path d="M443.6 768.45 H450 M452 769.05 H458.4" stroke="#5f5c5c" stroke-width="1.45" fill="none"/><path d="M443.6 771.4 H450 M452 772 H458.4" stroke="#5f5c5c" stroke-width="1.45" fill="none"/><path d="M443.6 774.35 H450 M452 774.95 H458.4" stroke="#5f5c5c" stroke-width="1.45" fill="none"/><path d="M443.6 777.3 H450 M452 777.9 H458.4" stroke="#5f5c5c" stroke-width="1.45" fill="none"/><path d="M442.7 779.4 H459.3" stroke="#4f4c4c" stroke-width="1.3"/><path d="M449 779.5 V800.5 M453 779.5 V800.5" fill="none" stroke="#7b7777" stroke-width="0.9"/><rect x="447.6" y="784.6" width="6.8" height="4.8" fill="#fff" stroke="#7b7777" stroke-width="0.7"/><path d="M440.8 808 V796 Q440.8 785.4 447.6 785.4 M454.4 785.4 Q461.2 785.4 461.2 796 V808" fill="none" stroke="#7b7777" stroke-width="1"/><path d="M449 800.5 Q447.6 804.5 441.4 807.6 M453 800.5 Q454.4 804.5 460.6 807.6" fill="none" stroke="#7b7777" stroke-width="0.9"/><circle cx="441.2" cy="808.2" r=".9" fill="#555"/><circle cx="460.8" cy="808.2" r=".9" fill="#555"/><rect x="490.2" y="750.6" width="12" height="5.6" fill="#1cdfe0" stroke="#7b7777" stroke-width="0.7"/><rect x="487.9" y="757.6" width="16.6" height="21.6" fill="#cfcccc" stroke="#625f5f" stroke-width="0.9"/><path d="M488.8 759.6 H495.2 M497.2 760.2 H503.6" stroke="#5f5c5c" stroke-width="1.45" fill="none"/><path d="M488.8 762.55 H495.2 M497.2 763.15 H503.6" stroke="#5f5c5c" stroke-width="1.45" fill="none"/><path d="M488.8 765.5 H495.2 M497.2 766.1 H503.6" stroke="#5f5c5c" stroke-width="1.45" fill="none"/><path d="M488.8 768.45 H495.2 M497.2 769.05 H503.6" stroke="#5f5c5c" stroke-width="1.45" fill="none"/><path d="M488.8 771.4 H495.2 M497.2 772 H503.6" stroke="#5f5c5c" stroke-width="1.45" fill="none"/><path d="M488.8 774.35 H495.2 M497.2 774.95 H503.6" stroke="#5f5c5c" stroke-width="1.45" fill="none"/><path d="M488.8 777.3 H495.2 M497.2 777.9 H503.6" stroke="#5f5c5c" stroke-width="1.45" fill="none"/><path d="M487.9 779.4 H504.5" stroke="#4f4c4c" stroke-width="1.3"/><path d="M494.2 779.5 V800.5 M498.2 779.5 V800.5" fill="none" stroke="#7b7777" stroke-width="0.9"/><rect x="492.8" y="784.6" width="6.8" height="4.8" fill="#fff" stroke="#7b7777" stroke-width="0.7"/><path d="M486 808 V796 Q486 785.4 492.8 785.4 M499.6 785.4 Q506.4 785.4 506.4 796 V808" fill="none" stroke="#7b7777" stroke-width="1"/><path d="M494.2 800.5 Q492.8 804.5 486.6 807.6 M498.2 800.5 Q499.6 804.5 505.8 807.6" fill="none" stroke="#7b7777" stroke-width="0.9"/><circle cx="486.4" cy="808.2" r=".9" fill="#555"/><circle cx="506" cy="808.2" r=".9" fill="#555"/><rect x="512.9" y="750.6" width="12" height="5.6" fill="#1cdfe0" stroke="#7b7777" stroke-width="0.7"/><rect x="510.6" y="757.6" width="16.6" height="21.6" fill="#cfcccc" stroke="#625f5f" stroke-width="0.9"/><path d="M511.5 759.6 H517.9 M519.9 760.2 H526.3" stroke="#5f5c5c" stroke-width="1.45" fill="none"/><path d="M511.5 762.55 H517.9 M519.9 763.15 H526.3" stroke="#5f5c5c" stroke-width="1.45" fill="none"/><path d="M511.5 765.5 H517.9 M519.9 766.1 H526.3" stroke="#5f5c5c" stroke-width="1.45" fill="none"/><path d="M511.5 768.45 H517.9 M519.9 769.05 H526.3" stroke="#5f5c5c" stroke-width="1.45" fill="none"/><path d="M511.5 771.4 H517.9 M519.9 772 H526.3" stroke="#5f5c5c" stroke-width="1.45" fill="none"/><path d="M511.5 774.35 H517.9 M519.9 774.95 H526.3" stroke="#5f5c5c" stroke-width="1.45" fill="none"/><path d="M511.5 777.3 H517.9 M519.9 777.9 H526.3" stroke="#5f5c5c" stroke-width="1.45" fill="none"/><path d="M510.6 779.4 H527.2" stroke="#4f4c4c" stroke-width="1.3"/><path d="M516.9 779.5 V800.5 M520.9 779.5 V800.5" fill="none" stroke="#7b7777" stroke-width="0.9"/><rect x="515.5" y="784.6" width="6.8" height="4.8" fill="#fff" stroke="#7b7777" stroke-width="0.7"/><path d="M508.7 808 V796 Q508.7 785.4 515.5 785.4 M522.3 785.4 Q529.1 785.4 529.1 796 V808" fill="none" stroke="#7b7777" stroke-width="1"/><path d="M516.9 800.5 Q515.5 804.5 509.3 807.6 M520.9 800.5 Q522.3 804.5 528.5 807.6" fill="none" stroke="#7b7777" stroke-width="0.9"/><circle cx="509.1" cy="808.2" r=".9" fill="#555"/><circle cx="528.7" cy="808.2" r=".9" fill="#555"/><rect x="270.1" y="813.4" width="2.4" height="96.6" fill="#c9c6c6" stroke="#7b7777" stroke-width="0.5"/><rect x="324.8" y="813.4" width="2.4" height="96.6" fill="#c9c6c6" stroke="#7b7777" stroke-width="0.5"/><path d="M271.3 816.4 Q271.3 810.4 277.3 810.4 L279.3 807.9 H318 L320 810.4 Q326 810.4 326 816.4" fill="none" stroke="#7b7777" stroke-width="0.9"/><rect x="337.8" y="811.6" width="2.4" height="98.4" fill="#c9c6c6" stroke="#7b7777" stroke-width="0.5"/><rect x="394.2" y="811.6" width="2.4" height="98.4" fill="#c9c6c6" stroke="#7b7777" stroke-width="0.5"/><path d="M339 814.6 Q339 808.6 345 808.6 L347 806.1 H387.4 L389.4 808.6 Q395.4 808.6 395.4 814.6" fill="none" stroke="#7b7777" stroke-width="0.9"/><rect x="409.8" y="811.6" width="2.4" height="98.4" fill="#c9c6c6" stroke="#7b7777" stroke-width="0.5"/><rect x="466.6" y="811.6" width="2.4" height="98.4" fill="#c9c6c6" stroke="#7b7777" stroke-width="0.5"/><path d="M411 814.6 Q411 808.6 417 808.6 L419 806.1 H459.8 L461.8 808.6 Q467.8 808.6 467.8 814.6" fill="none" stroke="#7b7777" stroke-width="0.9"/><rect x="478.8" y="813.4" width="2.4" height="96.6" fill="#c9c6c6" stroke="#7b7777" stroke-width="0.5"/><rect x="534.4" y="813.4" width="2.4" height="96.6" fill="#c9c6c6" stroke="#7b7777" stroke-width="0.5"/><path d="M480 816.4 Q480 810.4 486 810.4 L488 807.9 H527.6 L529.6 810.4 Q535.6 810.4 535.6 816.4" fill="none" stroke="#7b7777" stroke-width="0.9"/><path d="M326 813.3 H339 M395.4 813.3 H411 M467.8 813.3 H480" fill="none" stroke="#7b7777" stroke-width="0.9"/><rect x="292.1" y="855" width="12.8" height="66" fill="#fff" stroke="#3a3838" stroke-width="1.2"/><rect x="501.4" y="855" width="12.8" height="66" fill="#fff" stroke="#3a3838" stroke-width="1.2"/><rect x="361.1" y="905" width="12.4" height="70" fill="#fff" stroke="#3a3838" stroke-width="1.2"/><rect x="433.6" y="905" width="12.4" height="70" fill="#fff" stroke="#3a3838" stroke-width="1.2"/><path d="M272.7 815.4 H324.5 V842.9 Q321.5 844.4 314.6 847.9 Q306.6 850.9 305.1 855.9 H292.1 Q290.6 850.9 282.6 847.9 Q275.7 844.4 272.7 842.9 Z" fill="#fff" stroke="#4a4747" stroke-width="1.15"/><rect x="272.7" y="818.6" width="51.8" height="5.4" fill="#bcb8b8" stroke="#4a4747" stroke-width="0.7"/><path d="M272.7 817 H324.5" stroke="#6a6767" stroke-width=".7"/><circle cx="273.3" cy="819.7" r=".9" fill="none" stroke="#444" stroke-width=".5"/><circle cx="323.9" cy="819.7" r=".9" fill="none" stroke="#444" stroke-width=".5"/><circle cx="273.3" cy="821.5" r=".9" fill="none" stroke="#444" stroke-width=".5"/><circle cx="323.9" cy="821.5" r=".9" fill="none" stroke="#444" stroke-width=".5"/><circle cx="273.3" cy="823.3" r=".9" fill="none" stroke="#444" stroke-width=".5"/><circle cx="323.9" cy="823.3" r=".9" fill="none" stroke="#444" stroke-width=".5"/><circle cx="298.6" cy="836.4" r="6.3" fill="#fff" stroke="#7a7676" stroke-width="2"/><path d="M481.9 815.4 H533.7 V842.9 Q530.7 844.4 523.8 847.9 Q515.8 850.9 514.3 855.9 H501.3 Q499.8 850.9 491.8 847.9 Q484.9 844.4 481.9 842.9 Z" fill="#fff" stroke="#4a4747" stroke-width="1.15"/><rect x="481.9" y="818.6" width="51.8" height="5.4" fill="#bcb8b8" stroke="#4a4747" stroke-width="0.7"/><path d="M481.9 817 H533.7" stroke="#6a6767" stroke-width=".7"/><circle cx="482.5" cy="819.7" r=".9" fill="none" stroke="#444" stroke-width=".5"/><circle cx="533.1" cy="819.7" r=".9" fill="none" stroke="#444" stroke-width=".5"/><circle cx="482.5" cy="821.5" r=".9" fill="none" stroke="#444" stroke-width=".5"/><circle cx="533.1" cy="821.5" r=".9" fill="none" stroke="#444" stroke-width=".5"/><circle cx="482.5" cy="823.3" r=".9" fill="none" stroke="#444" stroke-width=".5"/><circle cx="533.1" cy="823.3" r=".9" fill="none" stroke="#444" stroke-width=".5"/><circle cx="507.8" cy="836.4" r="6.3" fill="#fff" stroke="#7a7676" stroke-width="2"/><path d="M340.7 870 H393.7 V899.5 Q390.7 901 383.2 904.5 Q375.2 907.5 373.7 912.5 H360.7 Q359.2 907.5 351.2 904.5 Q343.7 901 340.7 899.5 Z" fill="#fff" stroke="#4a4747" stroke-width="1.15"/><rect x="340.7" y="873.2" width="53" height="5.4" fill="#bcb8b8" stroke="#4a4747" stroke-width="0.7"/><path d="M340.7 871.6 H393.7" stroke="#6a6767" stroke-width=".7"/><circle cx="341.3" cy="874.3" r=".9" fill="none" stroke="#444" stroke-width=".5"/><circle cx="393.1" cy="874.3" r=".9" fill="none" stroke="#444" stroke-width=".5"/><circle cx="341.3" cy="876.1" r=".9" fill="none" stroke="#444" stroke-width=".5"/><circle cx="393.1" cy="876.1" r=".9" fill="none" stroke="#444" stroke-width=".5"/><circle cx="341.3" cy="877.9" r=".9" fill="none" stroke="#444" stroke-width=".5"/><circle cx="393.1" cy="877.9" r=".9" fill="none" stroke="#444" stroke-width=".5"/><circle cx="367.2" cy="891" r="6.3" fill="#fff" stroke="#7a7676" stroke-width="2"/><path d="M412.9 870 H465.9 V899.5 Q462.9 901 455.4 904.5 Q447.4 907.5 445.9 912.5 H432.9 Q431.4 907.5 423.4 904.5 Q415.9 901 412.9 899.5 Z" fill="#fff" stroke="#4a4747" stroke-width="1.15"/><rect x="412.9" y="873.2" width="53" height="5.4" fill="#bcb8b8" stroke="#4a4747" stroke-width="0.7"/><path d="M412.9 871.6 H465.9" stroke="#6a6767" stroke-width=".7"/><circle cx="413.5" cy="874.3" r=".9" fill="none" stroke="#444" stroke-width=".5"/><circle cx="465.3" cy="874.3" r=".9" fill="none" stroke="#444" stroke-width=".5"/><circle cx="413.5" cy="876.1" r=".9" fill="none" stroke="#444" stroke-width=".5"/><circle cx="465.3" cy="876.1" r=".9" fill="none" stroke="#444" stroke-width=".5"/><circle cx="413.5" cy="877.9" r=".9" fill="none" stroke="#444" stroke-width=".5"/><circle cx="465.3" cy="877.9" r=".9" fill="none" stroke="#444" stroke-width=".5"/><circle cx="439.4" cy="891" r="6.3" fill="#fff" stroke="#7a7676" stroke-width="2"/><rect x="252.5" y="948" width="23.5" height="37" fill="#1cdfe0"/><rect x="321.5" y="948" width="21" height="35.8" fill="#1cdfe0"/><rect x="390" y="948" width="27" height="36.4" fill="#1cdfe0"/><rect x="462.6" y="948" width="22.4" height="36.2" fill="#1cdfe0"/><rect x="531.2" y="949.5" width="20.8" height="33.5" fill="#1cdfe0"/><path d="M290 926.8 C281.585 934.8 274.7 950.8 274.7 967 C274.7 984 278.525 992.4 283.115 992.4 C288.164 992.4 290 986 290 973 Z" fill="#aba7a7" stroke="#6f6b6b" stroke-width="0.9"/><path d="M306.7 926.8 C315.445 934.8 322.6 950.8 322.6 967 C322.6 984 318.625 992.4 313.855 992.4 C308.608 992.4 306.7 986 306.7 973 Z" fill="#aba7a7" stroke="#6f6b6b" stroke-width="0.9"/><path d="M359 1006.5 C350.2 998.5 343 982.5 343 966 C343 951 346.2 940 351 940 C356.6 940 359 948 359 960 Z" fill="#aba7a7" stroke="#6f6b6b" stroke-width="0.9"/><path d="M374 1006.5 C382.91 998.5 390.2 982.5 390.2 966 C390.2 951 386.96 940 382.1 940 C376.43 940 374 948 374 960 Z" fill="#aba7a7" stroke="#6f6b6b" stroke-width="0.9"/><path d="M432.5 1006.5 C423.755 998.5 416.6 982.5 416.6 966 C416.6 951 419.78 940 424.55 940 C430.115 940 432.5 948 432.5 960 Z" fill="#aba7a7" stroke="#6f6b6b" stroke-width="0.9"/><path d="M447.3 1006.5 C455.935 998.5 463 982.5 463 966 C463 951 459.86 940 455.15 940 C449.655 940 447.3 948 447.3 960 Z" fill="#aba7a7" stroke="#6f6b6b" stroke-width="0.9"/><path d="M500.2 926.8 C491.51 934.8 484.4 950.8 484.4 967 C484.4 984 488.35 992.4 493.09 992.4 C498.304 992.4 500.2 986 500.2 973 Z" fill="#aba7a7" stroke="#6f6b6b" stroke-width="0.9"/><path d="M515.4 926.8 C524.31 934.8 531.6 950.8 531.6 967 C531.6 984 527.55 992.4 522.69 992.4 C517.344 992.4 515.4 986 515.4 973 Z" fill="#aba7a7" stroke="#6f6b6b" stroke-width="0.9"/><rect x="290.6" y="920.4" width="15.4" height="6.2" fill="#aba7a7" stroke="#7b7777" stroke-width="0.8" rx="1.5"/><rect x="290.6" y="950.6" width="15.4" height="6.6" fill="#aba7a7" stroke="#7b7777" stroke-width="0.8" rx="1.5"/><rect x="290.6" y="926.6" width="15.4" height="24" fill="#1cdfe0" stroke="#5fa9a9" stroke-width="0.6"/><rect x="500" y="920.4" width="15.6" height="6.2" fill="#aba7a7" stroke="#7b7777" stroke-width="0.8" rx="1.5"/><rect x="500" y="950.6" width="15.6" height="6.6" fill="#aba7a7" stroke="#7b7777" stroke-width="0.8" rx="1.5"/><rect x="500" y="926.6" width="15.6" height="24" fill="#1cdfe0" stroke="#5fa9a9" stroke-width="0.6"/><rect x="358" y="975.4" width="16" height="6.4" fill="#aba7a7" stroke="#7b7777" stroke-width="0.8" rx="1.5"/><rect x="358" y="1005.7" width="16" height="6.9" fill="#aba7a7" stroke="#7b7777" stroke-width="0.8" rx="1.5"/><rect x="358" y="981.8" width="16" height="23.9" fill="#1cdfe0" stroke="#5fa9a9" stroke-width="0.6"/><rect x="432" y="975.4" width="15.7" height="6.4" fill="#aba7a7" stroke="#7b7777" stroke-width="0.8" rx="1.5"/><rect x="432" y="1005.7" width="15.7" height="6.9" fill="#aba7a7" stroke="#7b7777" stroke-width="0.8" rx="1.5"/><rect x="432" y="981.8" width="15.7" height="23.9" fill="#1cdfe0" stroke="#5fa9a9" stroke-width="0.6"/><rect x="551.4" y="931.4" width="15.1" height="69.9" fill="#aba7a7" stroke="#7b7777" stroke-width="1"/><path d="M536.3 905 L543 910 V936 L537 941" fill="none" stroke="#7b7777" stroke-width="0.8"/><path d="M210.9 774 Q210.9 769 213.6 769 L217.2 777.8 L220.8 769 Q223.5 769 223.5 774 V834.7 Q223.5 839.7 220.8 839.7 L217.2 831 L213.6 839.7 Q210.9 839.7 210.9 834.7 Z" fill="#b9b5b5" stroke="#7b7777" stroke-width="1"/><path d="M216.6 778 V831 M217.8 778 V831" fill="none" stroke="#7b7777" stroke-width="0.6"/><rect x="225.4" y="784" width="24.2" height="41.2" fill="#fff" stroke="#7b7777" stroke-width="1" rx="3"/><path d="M225.4 801 H249.6 M225.4 807.5 H249.6" fill="none" stroke="#7b7777" stroke-width="0.9"/><path d="M195.6 925 Q199 932 198.8 942 V991 Q199 1001 195.6 1007.6 Q192.2 1001 192.4 991 V942 Q192.2 932 195.6 925 Z" fill="#aba7a7" stroke="#6f6b6b" stroke-width="0.8"/><path d="M203.6 925 Q207 932 206.8 942 V991 Q207 1001 203.6 1007.6 Q200.2 1001 200.4 991 V942 Q200.2 932 203.6 925 Z" fill="#aba7a7" stroke="#6f6b6b" stroke-width="0.8"/><path d="M212 925 Q215.4 932 215.2 942 V991 Q215.4 1001 212 1007.6 Q208.6 1001 208.8 991 V942 Q208.6 932 212 925 Z" fill="#aba7a7" stroke="#6f6b6b" stroke-width="0.8"/><path d="M220.2 925 Q223.6 932 223.4 942 V991 Q223.6 1001 220.2 1007.6 Q216.8 1001 217 991 V942 Q216.8 932 220.2 925 Z" fill="#aba7a7" stroke="#6f6b6b" stroke-width="0.8"/><rect x="198.7" y="936" width="1.8" height="61" fill="#dedbdb" stroke="#8a8686" stroke-width="0.5"/><rect x="206.9" y="936" width="1.8" height="61" fill="#dedbdb" stroke="#8a8686" stroke-width="0.5"/><rect x="215.2" y="936" width="1.8" height="61" fill="#dedbdb" stroke="#8a8686" stroke-width="0.5"/><rect x="224.9" y="942.2" width="26.9" height="50.2" fill="#fff" stroke="#7b7777" stroke-width="0.8"/><rect x="225.5" y="943.2" width="26.1" height="3.3" fill="#aba7a7"/><rect x="225.5" y="948.75" width="26.1" height="3.3" fill="#aba7a7"/><rect x="225.5" y="954.3" width="26.1" height="3.3" fill="#aba7a7"/><rect x="225.5" y="959.85" width="26.1" height="3.3" fill="#aba7a7"/><rect x="225.5" y="965.4" width="26.1" height="3.3" fill="#aba7a7"/><rect x="225.5" y="970.95" width="26.1" height="3.3" fill="#aba7a7"/><rect x="225.5" y="976.5" width="26.1" height="3.3" fill="#aba7a7"/><rect x="225.5" y="982.05" width="26.1" height="3.3" fill="#aba7a7"/><rect x="225.5" y="987.6" width="26.1" height="3.3" fill="#aba7a7"/><path d="M223.6 925 V996 H235.6 L242 1003.6 H253" fill="none" stroke="#6b6868" stroke-width="1.2"/><rect x="252.7" y="925.6" width="19.6" height="81.2" fill="#fff" stroke="#7b7777" stroke-width="0.9"/><rect x="252.7" y="925.6" width="19.6" height="6" fill="#aba7a7" stroke="#7b7777" stroke-width="0.8"/><rect x="252.7" y="998.6" width="19.6" height="8.2" fill="#aba7a7" stroke="#7b7777" stroke-width="0.8"/><rect x="252.5" y="948" width="23.5" height="37" fill="#1cdfe0"/><rect x="252.7" y="991.6" width="19.6" height="7" fill="#f7bb28" stroke="#a9791a" stroke-width="0.6"/><path d="M255.5 998 L259.5 992.2" stroke="#e2861c" stroke-width="1.1"/><path d="M260.5 998 L264.5 992.2" stroke="#e2861c" stroke-width="1.1"/><path d="M265.5 998 L269.5 992.2" stroke="#e2861c" stroke-width="1.1"/><path d="M264 905 V925.6 M268.2 905 V925.6" fill="none" stroke="#7b7777" stroke-width="0.8"/><circle cx="257" cy="953" r="1" fill="#e2861c"/><circle cx="263" cy="957" r="1" fill="#e2861c"/><circle cx="258" cy="962" r="1" fill="#e2861c"/><circle cx="266" cy="961" r="1" fill="#e2861c"/><circle cx="255.5" cy="971" r="1" fill="#e2861c"/><circle cx="261" cy="975" r="1" fill="#e2861c"/><circle cx="267" cy="973" r="1" fill="#e2861c"/><circle cx="258" cy="980" r="1" fill="#e2861c"/><circle cx="264" cy="982" r="1" fill="#e2861c"/><circle cx="269" cy="966" r="1" fill="#e2861c"/><circle cx="268" cy="988.3" r="1" fill="#e2861c"/><path d="M204 899 V846.5 Q204 840.2 210.5 840.2 H245 Q251.5 840.2 251.5 846.5 V899" fill="#fff" stroke="#7b7777" stroke-width="1.1"/><path d="M201.3 899 H254 V903.5 Q254 905.5 251 906 Q244 910 240.5 916.5 L238.5 919 H219.5 L217.5 916.5 Q214 910 205 906 Q201.3 905.5 201.3 903.5 Z" fill="#fff" stroke="#7b7777" stroke-width="1.1"/><path d="M207 906.6 H248 M213.5 912.6 H242" fill="none" stroke="#c8c5c5" stroke-width="0.6"/><rect x="205" y="850.4" width="4.5" height="47.6" fill="#f5c21c" stroke="#b88a12" stroke-width="0.5"/><rect x="246.4" y="850.4" width="4.6" height="47.6" fill="#f5c21c" stroke="#b88a12" stroke-width="0.5"/><rect x="209.5" y="850.4" width="14" height="47.6" fill="#fff" stroke="#7b7777" stroke-width="0.6"/><rect x="233" y="850.4" width="13.4" height="47.6" fill="#fff" stroke="#7b7777" stroke-width="0.6"/><path d="M209.8 852 L223.2 863 M233.3 852 L246.2 863" stroke="#5f6fb5" stroke-width=".7"/><path d="M209.8 863.6 L223.2 874.6 M233.3 863.6 L246.2 874.6" stroke="#5f6fb5" stroke-width=".7"/><path d="M209.8 875.2 L223.2 886.2 M233.3 875.2 L246.2 886.2" stroke="#5f6fb5" stroke-width=".7"/><path d="M209.8 886.8 L223.2 897.8 M233.3 886.8 L246.2 897.8" stroke="#5f6fb5" stroke-width=".7"/><path d="M210.5 862 H221 M235 862 H245.5" stroke="#f3c63a" stroke-width="1.3"/><circle cx="215" cy="866" r=".9" fill="#e2861c"/><circle cx="240" cy="866" r=".9" fill="#e2861c"/><path d="M210.5 874 H221 M235 874 H245.5" stroke="#f3c63a" stroke-width="1.3"/><circle cx="215" cy="878" r=".9" fill="#e2861c"/><circle cx="240" cy="878" r=".9" fill="#e2861c"/><path d="M210.5 886 H221 M235 886 H245.5" stroke="#f3c63a" stroke-width="1.3"/><circle cx="215" cy="890" r=".9" fill="#e2861c"/><circle cx="240" cy="890" r=".9" fill="#e2861c"/><rect x="224.5" y="844.5" width="7.5" height="4.5" fill="#fff" stroke="#7b7777" stroke-width="0.7"/><path d="M223.5 848.5 H233 V917 Q233 930.6 246 931 H272.3 V937.8 H243 Q223.5 937.5 223.5 919 Z" fill="#f7bb28" stroke="#9b7416" stroke-width="0.7"/><path d="M228.2 852 V918 Q228.5 934 245 934.4 H270" fill="none" stroke="#e2861c" stroke-width="1.3" stroke-dasharray="1.6 5.2"/><path d="M251.5 901 H262.6 V906.6 H251.5 Z" fill="#f7bb28"/><clipPath id="panclip"><path d="M266 1007 C268 1030 272 1050 292 1060.8 H370 C400 1060.8 405 1035 434 1022.3 H560 V1000 H266 Z"/></clipPath><rect x="262" y="1038.7" width="160" height="26" fill="#f8e152" clip-path="url(#panclip)"/><rect x="262" y="1038.7" width="160" height="1.2" fill="#eccb35" clip-path="url(#panclip)"/><rect x="304.2" y="1060.8" width="12" height="7.2" fill="#3b3838"/><path d="M272.3 995.1 H277.6 L329.5 1039" fill="none" stroke="#6e5414" stroke-width="6.6" stroke-linejoin="round"/><path d="M321 1038.2 H366.6 Q368 1041 360 1043 Q340 1045.6 322.5 1042.6 Q319.6 1040.5 321 1038.2 Z" fill="#f6c535" stroke="#8a6a16" stroke-width="0.7"/><path d="M272.3 995.1 H277.6 L330.5 1040" fill="none" stroke="#f6c535" stroke-width="5.2" stroke-linejoin="round"/><path d="M279 996.4 L329 1039.2 H362" fill="none" stroke="#ee8428" stroke-width="1.5" stroke-dasharray="1.7 4.4" stroke-linecap="round"/><rect x="252.7" y="991.6" width="19.6" height="7" fill="#f7bb28" stroke="#a9791a" stroke-width="0.6"/><path d="M255.5 998 L259.5 992.2" stroke="#e2861c" stroke-width="1.1"/><path d="M260.5 998 L264.5 992.2" stroke="#e2861c" stroke-width="1.1"/><path d="M265.5 998 L269.5 992.2" stroke="#e2861c" stroke-width="1.1"/><circle cx="324" cy="1048" r="1.25" fill="#ee8428"/><circle cx="330" cy="1051.5" r="1.25" fill="#ee8428"/><circle cx="336" cy="1047.5" r="1.25" fill="#ee8428"/><circle cx="341" cy="1051" r="1.25" fill="#ee8428"/><circle cx="347" cy="1048" r="1.25" fill="#ee8428"/><circle cx="352" cy="1052" r="1.25" fill="#ee8428"/><circle cx="358" cy="1048.5" r="1.25" fill="#ee8428"/><circle cx="364" cy="1051.5" r="1.25" fill="#ee8428"/><circle cx="370" cy="1048" r="1.25" fill="#ee8428"/><circle cx="327" cy="1055.5" r="1.25" fill="#ee8428"/><circle cx="334" cy="1056" r="1.25" fill="#ee8428"/><circle cx="343" cy="1055.5" r="1.25" fill="#ee8428"/><circle cx="350" cy="1056.5" r="1.25" fill="#ee8428"/><circle cx="357" cy="1055" r="1.25" fill="#ee8428"/><circle cx="366" cy="1055.5" r="1.25" fill="#ee8428"/><circle cx="338" cy="1052.5" r="1.25" fill="#ee8428"/><circle cx="361" cy="1046.6" r="1.25" fill="#ee8428"/><circle cx="373" cy="1052" r="1.25" fill="#ee8428"/><path d="M266 1007 C268 1030 272 1050 292 1060.8 H370 C400 1060.8 405 1035 434 1022.3 H515 C532 1022.3 537 1005 537.5 990 Q538 985 545 984.5 H552" fill="none" stroke="#1c1b1b" stroke-width="1.7" stroke-linecap="round"/><path d="M264.3 737.5 V904" fill="none" stroke="#f7bb28" stroke-width="3.9" stroke-linejoin="round" stroke-linecap="round"/><path d="M264.3 737.5 V904" fill="none" stroke="url(#oilp)" stroke-width="3.9" stroke-linejoin="round" stroke-linecap="butt"/><path d="M264.3 783.5 H542 V737.5" fill="none" stroke="#f7bb28" stroke-width="3.9" stroke-linejoin="round" stroke-linecap="round"/><path d="M264.3 783.5 H542 V737.5" fill="none" stroke="url(#oilp)" stroke-width="3.9" stroke-linejoin="round" stroke-linecap="butt"/><path d="M332.5 737.5 V783.5" fill="none" stroke="#f7bb28" stroke-width="3.9" stroke-linejoin="round" stroke-linecap="round"/><path d="M332.5 737.5 V783.5" fill="none" stroke="url(#oilp)" stroke-width="3.9" stroke-linejoin="round" stroke-linecap="butt"/><path d="M403.5 737.5 V783.5" fill="none" stroke="#f7bb28" stroke-width="3.9" stroke-linejoin="round" stroke-linecap="round"/><path d="M403.5 737.5 V783.5" fill="none" stroke="url(#oilp)" stroke-width="3.9" stroke-linejoin="round" stroke-linecap="butt"/><path d="M474 737.5 V783.5" fill="none" stroke="#f7bb28" stroke-width="3.9" stroke-linejoin="round" stroke-linecap="round"/><path d="M474 737.5 V783.5" fill="none" stroke="url(#oilp)" stroke-width="3.9" stroke-linejoin="round" stroke-linecap="butt"/><path d="M262 904 H524.6 V926.5 L545 967" fill="none" stroke="#f7bb28" stroke-width="3.9" stroke-linejoin="round" stroke-linecap="round"/><path d="M262 904 H524.6 V926.5 L545 967" fill="none" stroke="url(#oilp)" stroke-width="3.9" stroke-linejoin="round" stroke-linecap="butt"/><path d="M280 904 V942 L261.5 967" fill="none" stroke="#f7bb28" stroke-width="3.9" stroke-linejoin="round" stroke-linecap="round"/><path d="M280 904 V942 L261.5 967" fill="none" stroke="url(#oilp)" stroke-width="3.9" stroke-linejoin="round" stroke-linecap="butt"/><path d="M332 904 V967 L367.3 994" fill="none" stroke="#f7bb28" stroke-width="3.9" stroke-linejoin="round" stroke-linecap="round"/><path d="M332 904 V967 L367.3 994" fill="none" stroke="url(#oilp)" stroke-width="3.9" stroke-linejoin="round" stroke-linecap="butt"/><path d="M403 904 V968.4" fill="none" stroke="#f7bb28" stroke-width="3.9" stroke-linejoin="round" stroke-linecap="round"/><path d="M403 904 V968.4" fill="none" stroke="url(#oilp)" stroke-width="3.9" stroke-linejoin="round" stroke-linecap="butt"/><path d="M473.3 904 V968.4 L440 993.2" fill="none" stroke="#f7bb28" stroke-width="3.9" stroke-linejoin="round" stroke-linecap="round"/><path d="M473.3 904 V968.4 L440 993.2" fill="none" stroke="url(#oilp)" stroke-width="3.9" stroke-linejoin="round" stroke-linecap="butt"/><path d="M261.5 967 L299 938" fill="none" stroke="#f7bb28" stroke-width="2.6" stroke-linejoin="round" stroke-linecap="round"/><path d="M261.5 967 L299 938" fill="none" stroke="url(#oilp)" stroke-width="2.6" stroke-linejoin="round" stroke-linecap="butt"/><path d="M506.8 937.8 L545 967" fill="none" stroke="#f7bb28" stroke-width="2.6" stroke-linejoin="round" stroke-linecap="round"/><path d="M506.8 937.8 L545 967" fill="none" stroke="url(#oilp)" stroke-width="2.6" stroke-linejoin="round" stroke-linecap="butt"/><path d="M264.3 759.5 Q270.3 757 277.9 750.5 Q280.9 748.3 286.9 748.3 Q292.9 748.3 294.9 750.2 L298.1 752.6 L301.3 750.2 Q303.3 748.3 309.3 748.3 Q315.3 748.3 318.3 750.5 Q326.5 757 332.5 759.5" fill="none" stroke="#f7bb28" stroke-width="1.9" stroke-linejoin="round"/><path d="M332.5 759.5 Q338.5 757 346.6 750.5 Q349.6 748.3 355.6 748.3 Q361.6 748.3 363.6 750.2 L366.8 752.6 L370 750.2 Q372 748.3 378 748.3 Q384 748.3 387 750.5 Q397.5 757 403.5 759.5" fill="none" stroke="#f7bb28" stroke-width="1.9" stroke-linejoin="round"/><path d="M403.5 759.5 Q409.5 757 419.4 750.5 Q422.4 748.3 428.4 748.3 Q434.4 748.3 436.4 750.2 L439.7 752.6 L443 750.2 Q445 748.3 451 748.3 Q457 748.3 460 750.5 Q468 757 474 759.5" fill="none" stroke="#f7bb28" stroke-width="1.9" stroke-linejoin="round"/><path d="M474 759.5 Q480 757 487.2 750.5 Q490.2 748.3 496.2 748.3 Q502.2 748.3 504.2 750.2 L507.55 752.6 L510.9 750.2 Q512.9 748.3 518.9 748.3 Q524.9 748.3 527.9 750.5 Q536 757 542 759.5" fill="none" stroke="#f7bb28" stroke-width="1.9" stroke-linejoin="round"/><path d="M264.3 736.2 V741" stroke="#e2861c" stroke-width="1.4" stroke-linecap="round"/><path d="M332.5 736.2 V741" stroke="#e2861c" stroke-width="1.4" stroke-linecap="round"/><path d="M403.5 736.2 V741" stroke="#e2861c" stroke-width="1.4" stroke-linecap="round"/><path d="M474 736.2 V741" stroke="#e2861c" stroke-width="1.4" stroke-linecap="round"/><path d="M542 736.2 V741" stroke="#e2861c" stroke-width="1.4" stroke-linecap="round"/><path d="M261.9 791.8 V801.8 M266.8 791.8 V801.8" fill="none" stroke="#4a4747" stroke-width="1.2"/><path d="M549 741.5 H631 M567 969 H650.5 M259.5 1007 L191.5 1058" stroke="#222" stroke-width="1.1" fill="none"/></svg>
 <figcaption><svg class="t " role="img" aria-label="机油过" style="left:132px;top:854.165px" width="66" height="27" viewBox="0 0 66 27" fill="#222"><title>机油过</title><text x="4" y="20.335" font-size="19.3">机油过</text></svg><svg class="t " role="img" aria-label="滤器" style="left:142px;top:886.165px" width="47" height="27" viewBox="0 0 47 27" fill="#222"><title>滤器</title><text x="4" y="20.335" font-size="19.3">滤器</text></svg><svg class="t " role="img" aria-label="凸轮轴" style="left:631px;top:726.665px" width="66" height="27" viewBox="0 0 66 27" fill="#222"><title>凸轮轴</title><text x="4" y="20.335" font-size="19.3">凸轮轴</text></svg><svg class="t " role="img" aria-label="曲轴" style="left:650px;top:954.365px" width="47" height="27" viewBox="0 0 47 27" fill="#222"><title>曲轴</title><text x="4" y="20.335" font-size="19.3">曲轴</text></svg><svg class="t " role="img" aria-label="机油泵" style="left:176.5px;top:1054.37px" width="66" height="27" viewBox="0 0 66 27" fill="#222"><title>机油泵</title><text x="4" y="20.335" font-size="19.3">机油泵</text></svg></figcaption>
 </figure>
 </section>
 <svg class="abs" aria-hidden="true" style="left:0;top:0;pointer-events:none" width="790" height="1094" viewBox="0 0 790 1094"><defs><g id="wmk"><path d="M114.5 773 H137.7 Q139.7 773 139.7 775 V797.3 Q139.7 799.3 137.7 799.3 H114.5 Q112.5 799.3 112.5 797.3 V775 Q112.5 773 114.5 773 Z"/><path d="M143.4 772.8 L165.5 771.6 Q167.8 771.6 167.2 773.8 L161.6 795.4 Q161 797.3 159 797.4 L143.4 797.8 Q141.4 797.8 141.4 795.8 V774.8 Q141.4 772.9 143.4 772.8 Z"/><path d="M114.5 801.8 L137.7 801 Q139.7 801 139.7 803 V820.4 Q139.7 822 138 822.6 L115 828 Q112.5 828.4 112.5 826 V803.8 Q112.5 801.9 114.5 801.8 Z"/><path d="M113 773.5 L139.2 798.8 H113 Z M142 773.2 L161.2 797 L142 797.5 Z M113 802.2 L139.2 822 L113 827.8 Z" opacity=".35"/><g transform="translate(181 750) rotate(-45)"><g transform="translate(-24 10.5) skewX(-9) scale(1.12 .74)"><text class="cjk" x="0" y="0" font-size="40" font-weight="bold" letter-spacing="5.6">鑫方盛</text></g><text x="30" y="-18" font-family="Liberation Sans, sans-serif" font-weight="bold" font-style="italic" font-size="12.5" textLength="75" lengthAdjust="spacingAndGlyphs">XFS.COM</text></g></g></defs><use href="#wmk" x="0.5" y="-403.5" fill="#000" opacity=".115"/><use href="#wmk" x="405.5" y="-404.5" fill="#000" opacity=".115"/><use href="#wmk" x="401" y="-1" fill="#000" opacity=".16"/></svg>
</main>
</body>
</html>
